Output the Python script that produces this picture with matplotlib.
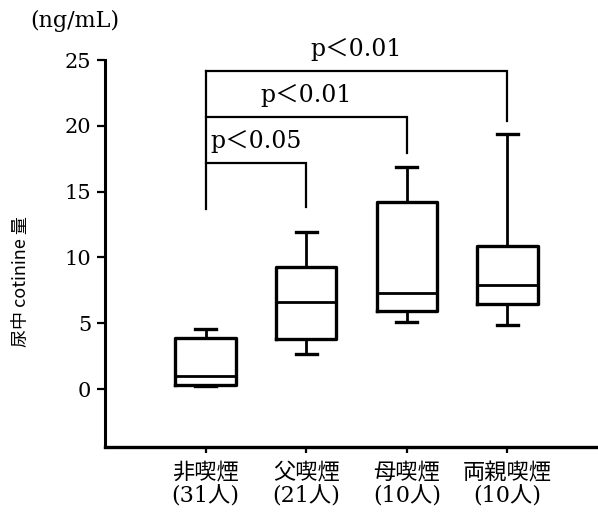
"""Urinary cotinine by household smoking status (box plot with significance brackets)."""
import matplotlib
matplotlib.use("Agg")
import matplotlib.pyplot as plt

plt.rcParams["font.family"] = ["DejaVu Serif", "Noto Sans CJK JP"]

groups = ["非喫煙\n(31人)", "父喫煙\n(21人)", "母喫煙\n(10人)", "両親喫煙\n(10人)"]
whislo = [0.2, 2.7, 5.1, 4.9]
q1 = [0.3, 3.8, 5.9, 6.5]
med = [1.0, 6.6, 7.3, 7.9]
q3 = [3.9, 9.3, 14.2, 10.9]
whishi = [4.6, 11.9, 16.9, 19.4]

# significance brackets: (from group, to group, bar height, right drop end, label)
brackets = [
    (1, 4, 24.2, 20.4, "p＜0.01"),
    (1, 3, 20.7, 17.9, "p＜0.01"),
    (1, 2, 17.2, 13.8, "p＜0.05"),
]
bracket_left_end = 13.7

fig = plt.figure(figsize=(5.98, 5.16), dpi=100)
ax = fig.add_axes([0.1756, 0.1343, 0.8244, 0.7494])

stats = [
    dict(whislo=a, q1=b, med=c, q3=d, whishi=e, fliers=[])
    for a, b, c, d, e in zip(whislo, q1, med, q3, whishi)
]
ax.bxp(stats, positions=[1, 2, 3, 4], widths=0.6, showfliers=False,
       boxprops=dict(color="black", linewidth=2.4),
       medianprops=dict(color="black", linewidth=2.0),
       whiskerprops=dict(color="black", linewidth=2.0),
       capprops=dict(color="black", linewidth=2.4), capwidths=0.21)

for x0, x1, h, drop, label in brackets:
    ax.plot([x0, x1, x1], [h, h, drop], color="black", lw=1.6,
            clip_on=False, solid_joinstyle="miter")
    ax.text((x0 + x1) / 2, h + 0.7, label, ha="center", va="bottom",
            fontsize=17, clip_on=False)
ax.plot([1, 1], [brackets[0][2], bracket_left_end], color="black", lw=1.6, clip_on=False)

ax.set_xlim(0, 4.9)
ax.set_ylim(-4.38, 25)
ax.set_yticks([0, 5, 10, 15, 20, 25])
ax.set_xticks([1, 2, 3, 4])
ax.set_xticklabels(groups, fontsize=16, linespacing=1.1)
ax.tick_params(axis="y", labelsize=15, length=6, width=1.6, pad=4)
ax.tick_params(axis="x", length=4, width=1.6, pad=7)
ax.spines["top"].set_visible(False)
ax.spines["right"].set_visible(False)
ax.spines["left"].set_linewidth(2.2)
ax.spines["bottom"].set_linewidth(2.4)

fig.text(0.05, 0.96, "(ng/mL)", fontsize=16, ha="left", va="center")
fig.text(0.035, 0.455, "尿中 cotinine 量", rotation=90, fontsize=13,
         ha="center", va="center", family=["Noto Sans CJK JP", "DejaVu Sans"])

fig.savefig("out.png", dpi=100)
